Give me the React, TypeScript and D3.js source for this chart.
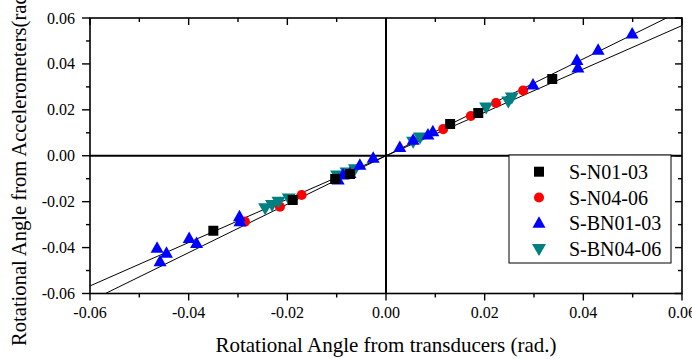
import React from 'react';
import * as d3 from 'd3';

const W = 692;
const H = 359;

const xDomain = [-0.06, 0.06];
const yDomain = [-0.06, 0.06];
const majorTicks = [-0.06, -0.04, -0.02, 0, 0.02, 0.04, 0.06];
const minorTicks = [-0.05, -0.03, -0.01, 0.01, 0.03, 0.05];
const xTickLabels = ['-0.06', '-0.04', '-0.02', '0.00', '0.02', '0.04', '0.06'];
const yTickLabels = ['-0.06', '-0.04', '-0.02', '0.00', '0.02', '0.04', '0.06'];

const xTitle = 'Rotational Angle from transducers (rad.)';
const yTitle = 'Rotational Angle from Accelerometers(rad.)';

// S-N01-03
const sn0103X = [-0.0350, -0.0189, -0.0103, -0.0073, 0.0130, 0.0187, 0.0337];
const sn0103Y = [-0.0327, -0.0193, -0.0101, -0.0080, 0.0138, 0.0186, 0.0334];
// S-N04-06
const sn0406X = [-0.0286, -0.0215, -0.0171, 0.0116, 0.0172, 0.0223, 0.0278];
const sn0406Y = [-0.0287, -0.0222, -0.0171, 0.0116, 0.0173, 0.0230, 0.0284];
// S-BN01-03
const sbn0103X = [-0.0464, -0.0445, -0.0458, -0.0399, -0.0384, -0.0297, -0.0296, -0.0097, -0.0087, -0.0073, -0.0053, -0.0026, 0.0028, 0.0055, 0.0085, 0.0095, 0.0298, 0.0387, 0.0389, 0.0430, 0.0499];
const sbn0103Y = [-0.0403, -0.0425, -0.0462, -0.0360, -0.0382, -0.0266, -0.0287, -0.0106, -0.0084, -0.0077, -0.0041, -0.0011, 0.0036, 0.0068, 0.0090, 0.0105, 0.0308, 0.0415, 0.0382, 0.0460, 0.0530];
// S-BN04-06
const sbn0406X = [-0.0245, -0.0231, -0.0218, -0.0197, -0.0099, -0.0080, -0.0063, 0.0055, 0.0069, 0.0203, 0.0248, 0.0255];
const sbn0406Y = [-0.0229, -0.0215, -0.0200, -0.0186, -0.0086, -0.0073, -0.0059, 0.0061, 0.0079, 0.0210, 0.0236, 0.0254];

const fitSlopes = [1.055, 0.945];

const seriesNames = ['S-N01-03', 'S-N04-06', 'S-BN01-03', 'S-BN04-06'];
const seriesColors = ['#000000', '#ff0000', '#0000ff', '#008080'];
const seriesShapes = ['square', 'circle', 'up', 'down'];
const seriesX = [sn0103X, sn0406X, sbn0103X, sbn0406X];
const seriesY = [sn0103Y, sn0406Y, sbn0103Y, sbn0406Y];
const drawOrder = [1, 3, 2, 0];

const M = { left: 90, right: 682, top: 18, bottom: 293.5 };
const FONT = '"Liberation Serif", "Times New Roman", serif';

function markerPath(shape: string): string {
  if (shape === 'square') return 'M-5,-5H5V5H-5Z';
  if (shape === 'circle') return d3.symbol(d3.symbolCircle, 80)() as string;
  if (shape === 'up') return 'M0,-7L6.5,4.5L-6.5,4.5Z';
  return 'M0,7L7,-5L-7,-5Z';
}

export default function App() {
  const x = d3.scaleLinear().domain(xDomain).range([M.left, M.right]);
  const y = d3.scaleLinear().domain(yDomain).range([M.bottom, M.top]);

  const fitLines = fitSlopes.map((s) => {
    const pts: [number, number][] = [[xDomain[0], s * xDomain[0]], [xDomain[1], s * xDomain[1]]];
    return d3.line<[number, number]>().x((d) => x(d[0])).y((d) => y(d[1]))(pts) as string;
  });

  const legendX = 509;
  const legendY = 155;
  const legendW = 162;
  const legendH = 108;
  const rowH = 25.8;

  return (
    <svg width={W} height={H} style={{ position: 'absolute', left: 0, top: 0, background: '#fff' }} fontFamily={FONT}>
      <defs>
        <clipPath id="plotClip">
          <rect x={M.left} y={M.top} width={M.right - M.left} height={M.bottom - M.top} />
        </clipPath>
      </defs>
      <rect x={0} y={0} width={W} height={H} fill="#fff" />

      {/* zero lines */}
      <line x1={M.left} x2={M.right} y1={y(0)} y2={y(0)} stroke="#000" strokeWidth={2} />
      <line x1={x(0)} x2={x(0)} y1={M.top} y2={M.bottom} stroke="#000" strokeWidth={2} />

      {/* fit lines */}
      <g clipPath="url(#plotClip)">
        {fitLines.map((d, i) => (
          <path key={i} d={d} fill="none" stroke="#000" strokeWidth={1} />
        ))}
      </g>

      {/* data */}
      <g clipPath="url(#plotClip)">
        {drawOrder.map((si) => (
          <g key={si} fill={seriesColors[si]}>
            {seriesX[si].map((vx, i) => (
              <path key={i} d={markerPath(seriesShapes[si])} transform={`translate(${x(vx)},${y(seriesY[si][i])})`} />
            ))}
          </g>
        ))}
      </g>

      {/* frame */}
      <rect x={M.left} y={M.top} width={M.right - M.left} height={M.bottom - M.top} fill="none" stroke="#000" strokeWidth={1.6} />

      {/* bottom ticks (outward) and top ticks (inward) */}
      {majorTicks.map((t, i) => (
        <g key={'bx' + i}>
          <line x1={x(t)} x2={x(t)} y1={M.bottom} y2={M.bottom + 7} stroke="#000" strokeWidth={1.4} />
          <line x1={x(t)} x2={x(t)} y1={M.top} y2={M.top + 7} stroke="#000" strokeWidth={1.4} />
          <text x={x(t)} y={318} textAnchor="middle" fontSize={16} fill="#000">{xTickLabels[i]}</text>
        </g>
      ))}
      {minorTicks.map((t, i) => (
        <g key={'mx' + i}>
          <line x1={x(t)} x2={x(t)} y1={M.bottom} y2={M.bottom + 4} stroke="#000" strokeWidth={1.4} />
          <line x1={x(t)} x2={x(t)} y1={M.top} y2={M.top + 4} stroke="#000" strokeWidth={1.4} />
        </g>
      ))}

      {/* left ticks (outward) and right ticks (inward) */}
      {majorTicks.map((t, i) => (
        <g key={'ly' + i}>
          <line x1={M.left - 8} x2={M.left} y1={y(t)} y2={y(t)} stroke="#000" strokeWidth={1.4} />
          <line x1={M.right - 7} x2={M.right} y1={y(t)} y2={y(t)} stroke="#000" strokeWidth={1.4} />
          <text x={75} y={y(t) + 5.5} textAnchor="end" fontSize={16} fill="#000">{yTickLabels[i]}</text>
        </g>
      ))}
      {minorTicks.map((t, i) => (
        <g key={'my' + i}>
          <line x1={M.left - 4} x2={M.left} y1={y(t)} y2={y(t)} stroke="#000" strokeWidth={1.4} />
          <line x1={M.right - 4} x2={M.right} y1={y(t)} y2={y(t)} stroke="#000" strokeWidth={1.4} />
        </g>
      ))}

      {/* titles */}
      <text x={x(0)} y={352} textAnchor="middle" fontSize={21} fill="#000">{xTitle}</text>
      <text transform="translate(26,346) rotate(-90)" textAnchor="start" fontSize={20.6} fill="#000">{yTitle}</text>

      {/* legend */}
      <rect x={legendX} y={legendY} width={legendW} height={legendH} fill="#fff" stroke="#000" strokeWidth={1} />
      {seriesNames.map((name, i) => (
        <g key={name}>
          <path d={markerPath(seriesShapes[i])} fill={seriesColors[i]} transform={`translate(539,${legendY + 16.7 + i * rowH})`} />
          <text x={569} y={legendY + 16.7 + i * rowH + 7} fontSize={20} fill="#000">{name}</text>
        </g>
      ))}
    </svg>
  );
}
